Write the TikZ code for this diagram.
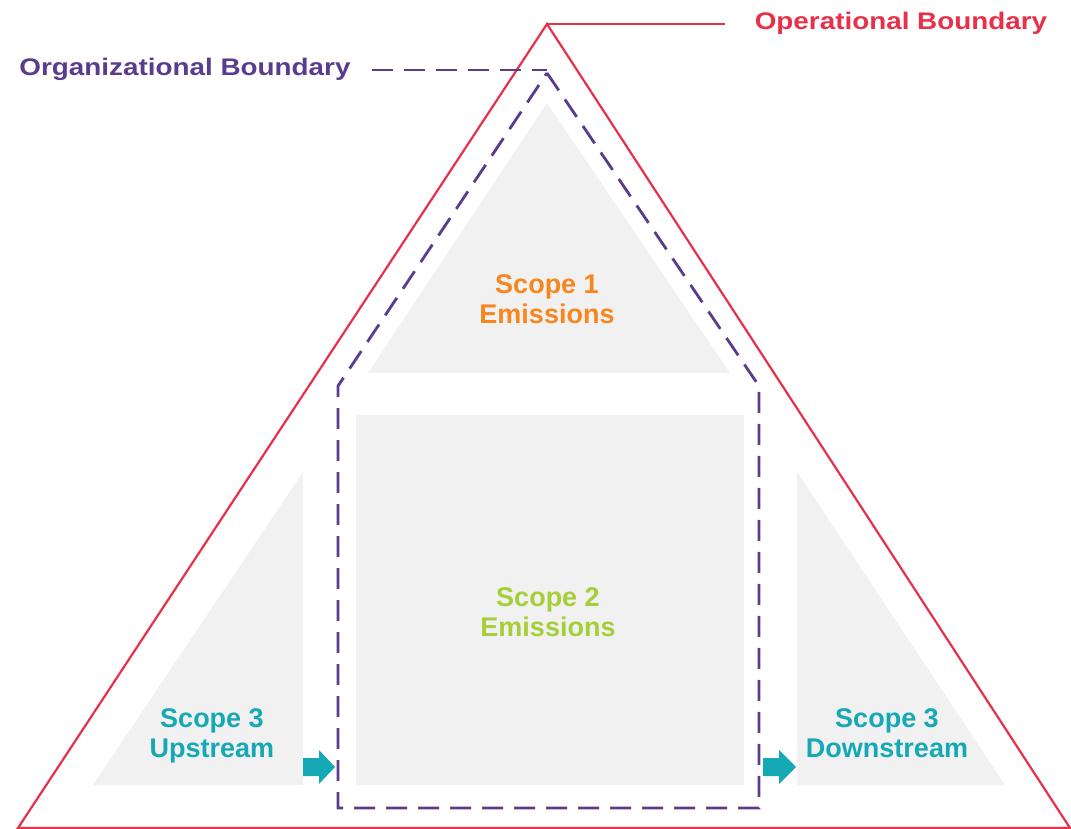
\documentclass[tikz,border=0pt]{standalone}
\usepackage{fontspec}
\setmainfont{Liberation Sans}
\newfontfamily\widesans[FakeStretch=1.16]{Liberation Sans}
\definecolor{opred}{HTML}{E8304B}
\definecolor{orgpurple}{HTML}{5A3C8E}
\definecolor{scopegrey}{HTML}{F1F1F1}
\definecolor{scopeorange}{HTML}{F7861E}
\definecolor{scopegreen}{HTML}{A6CE39}
\definecolor{scopeteal}{HTML}{15A8B5}
\tikzset{
  opline/.style={draw=opred,line width=2.2pt,line join=miter},
  orgline/.style={draw=orgpurple,line width=2.8pt,dash pattern=on 21pt off 11pt},
  boundlabel/.style={anchor=base,inner sep=0pt,font=\widesans\bfseries\fontsize{24}{28}\selectfont},
  scopelabel/.style={align=center,inner sep=0pt,font=\bfseries\fontsize{27}{30}\selectfont},
  flowarrow/.style={fill=scopeteal,draw=none}
}
\begin{document}
\begin{tikzpicture}[x=1pt,y=-1pt]
\useasboundingbox (0,0) rectangle (1071,829);
\fill[scopegrey] (547,103) -- (730,373) -- (368,373) -- cycle;
\fill[scopegrey] (356,415) rectangle (744,785);
\fill[scopegrey] (303,472) -- (303,785) -- (93,785) -- cycle;
\fill[scopegrey] (797,472) -- (1005,785) -- (797,785) -- cycle;

\coordinate (opapex) at (547,24);
\coordinate (opend) at (725,24);
\draw[opline] (opapex) -- (1070,828) -- (18,828) -- cycle;
\draw[opline] (opapex) -- (opend);
\node[boundlabel,text=opred] (operational) at (901,30) {Operational Boundary};

\coordinate (orgapex) at (547,73);
\coordinate (orgstart) at (372,70);
\coordinate (orgend) at (547,70);
\draw[orgline] (orgapex) -- (759,386) -- (759,808) -- (338,808) -- (338,386) -- cycle;
\draw[orgline] (orgstart) -- (orgend);
\node[boundlabel,text=orgpurple] (organizational) at (185,76) {Organizational Boundary};

\node[scopelabel,text=scopeorange] (scopeone) at (547,299) {Scope 1\\Emissions};
\node[scopelabel,text=scopegreen] (scopetwo) at (548,612) {Scope 2\\Emissions};
\node[scopelabel,text=scopeteal] (upstream) at (212,736) {Scope 3\\Upstream};
\node[scopelabel,text=scopeteal] (downstream) at (887,733) {Scope 3\\Downstream};

\fill[flowarrow] (303,758) -- (319,758) -- (319,750) -- (335,767) -- (319,784) -- (319,776) -- (303,776) -- cycle;
\fill[flowarrow] (763,758) -- (779,758) -- (779,750) -- (796,767) -- (779,784) -- (779,776) -- (763,776) -- cycle;
\end{tikzpicture}
\end{document}
